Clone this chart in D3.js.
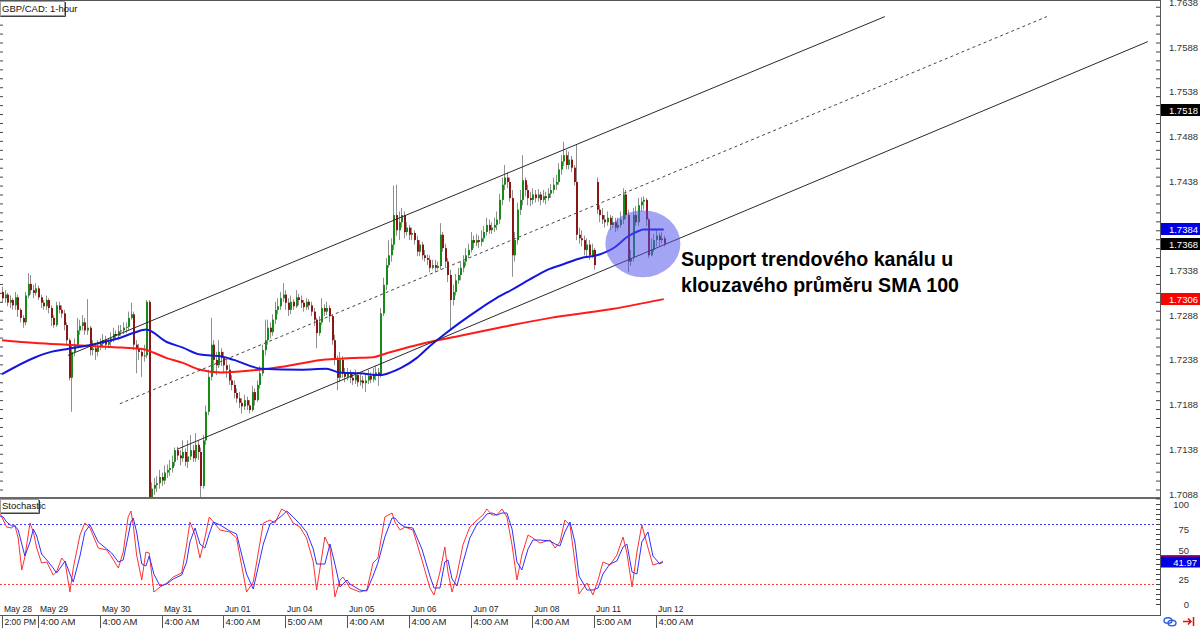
<!DOCTYPE html>
<html><head><meta charset="utf-8">
<script src="https://cdn.jsdelivr.net/npm/d3@7/dist/d3.min.js"></script>
<style>
html,body{margin:0;padding:0;background:#fff;}
svg{display:block;}
</style></head><body>
<svg id="chart" width="1200" height="628"></svg>
<script>
// ---------------- DATA ----------------
const firstOpen = 1.7314;
const gapOpens = {231: 1.7437};
const closes = [
1.7307,1.7311,1.7302,1.7305,1.7299,1.7308,1.7294,1.7285,1.7280,1.7310,
1.7323,1.7316,1.7313,1.7318,1.7308,1.7302,1.7298,1.7305,1.7296,1.7285,
1.7277,1.7299,1.7294,1.7290,1.7277,1.7260,1.7218,1.7247,1.7255,1.7271,
1.7276,1.7280,1.7271,1.7274,1.7249,1.7251,1.7247,1.7253,1.7256,1.7260,
1.7255,1.7258,1.7262,1.7267,1.7265,1.7270,1.7271,1.7274,1.7275,1.7285,
1.7289,1.7255,1.7251,1.7247,1.7242,1.7243,1.7303,1.7084,1.7094,1.7098,
1.7100,1.7107,1.7103,1.7112,1.7115,1.7117,1.7124,1.7137,1.7131,1.7128,
1.7135,1.7124,1.7130,1.7137,1.7128,1.7143,1.7135,1.7097,1.7148,1.7180,
1.7219,1.7255,1.7238,1.7232,1.7247,1.7240,1.7232,1.7227,1.7215,1.7210,
1.7201,1.7195,1.7190,1.7186,1.7193,1.7187,1.7182,1.7202,1.7193,1.7210,
1.7223,1.7249,1.7260,1.7274,1.7269,1.7283,1.7294,1.7298,1.7307,1.7311,
1.7302,1.7294,1.7303,1.7298,1.7308,1.7305,1.7302,1.7297,1.7303,1.7299,
1.7292,1.7283,1.7268,1.7280,1.7296,1.7292,1.7296,1.7287,1.7260,1.7238,
1.7218,1.7238,1.7224,1.7219,1.7223,1.7218,1.7215,1.7221,1.7213,1.7215,
1.7212,1.7215,1.7220,1.7216,1.7221,1.7224,1.7220,1.7290,1.7322,1.7344,
1.7355,1.7367,1.7400,1.7383,1.7392,1.7400,1.7381,1.7386,1.7378,1.7380,
1.7372,1.7359,1.7367,1.7355,1.7352,1.7350,1.7341,1.7344,1.7341,1.7343,
1.7378,1.7363,1.7348,1.7333,1.7305,1.7314,1.7327,1.7333,1.7341,1.7348,
1.7355,1.7361,1.7372,1.7369,1.7372,1.7370,1.7374,1.7381,1.7389,1.7383,
1.7386,1.7389,1.7395,1.7417,1.7434,1.7442,1.7437,1.7419,1.7355,1.7372,
1.7406,1.7417,1.7439,1.7428,1.7419,1.7417,1.7423,1.7419,1.7423,1.7417,
1.7421,1.7419,1.7424,1.7428,1.7434,1.7437,1.7451,1.7460,1.7467,1.7456,
1.7462,1.7453,1.7437,1.7378,1.7374,1.7372,1.7361,1.7367,1.7355,1.7361,
1.7344,1.7406,1.7400,1.7395,1.7392,1.7397,1.7389,1.7392,1.7386,1.7389,
1.7395,1.7423,1.7400,1.7348,1.7352,1.7400,1.7392,1.7411,1.7415,1.7417,
1.7395,1.7355,1.7361,1.7372,1.7377,1.7372,1.7374,1.7368];
const highs = [
1.7320,1.7316,1.7313,1.7310,1.7307,1.7314,1.7311,1.7296,1.7288,1.7314,
1.7335,1.7333,1.7322,1.7324,1.7321,1.7311,1.7305,1.7310,1.7307,1.7299,
1.7288,1.7303,1.7303,1.7299,1.7294,1.7280,1.7262,1.7255,1.7262,1.7285,
1.7283,1.7288,1.7285,1.7306,1.7276,1.7260,1.7257,1.7260,1.7262,1.7267,
1.7265,1.7262,1.7269,1.7274,1.7271,1.7277,1.7277,1.7280,1.7280,1.7292,
1.7302,1.7292,1.7260,1.7256,1.7251,1.7255,1.7305,1.7305,1.7101,1.7106,
1.7108,1.7115,1.7112,1.7120,1.7121,1.7126,1.7131,1.7140,1.7141,1.7137,
1.7148,1.7139,1.7148,1.7154,1.7143,1.7156,1.7148,1.7140,1.7154,1.7187,
1.7227,1.7285,1.7260,1.7247,1.7260,1.7251,1.7247,1.7238,1.7233,1.7221,
1.7215,1.7206,1.7202,1.7195,1.7199,1.7197,1.7193,1.7209,1.7206,1.7215,
1.7231,1.7255,1.7283,1.7283,1.7280,1.7289,1.7303,1.7307,1.7314,1.7324,
1.7316,1.7307,1.7310,1.7306,1.7316,1.7312,1.7310,1.7305,1.7307,1.7306,
1.7303,1.7296,1.7285,1.7287,1.7307,1.7300,1.7303,1.7299,1.7289,1.7266,
1.7243,1.7247,1.7242,1.7229,1.7229,1.7227,1.7224,1.7227,1.7224,1.7222,
1.7220,1.7222,1.7227,1.7224,1.7229,1.7231,1.7229,1.7296,1.7330,1.7352,
1.7372,1.7374,1.7433,1.7434,1.7404,1.7408,1.7404,1.7392,1.7389,1.7386,
1.7383,1.7377,1.7372,1.7370,1.7361,1.7356,1.7355,1.7350,1.7350,1.7348,
1.7391,1.7381,1.7368,1.7352,1.7339,1.7322,1.7334,1.7341,1.7348,1.7355,
1.7363,1.7368,1.7381,1.7377,1.7379,1.7377,1.7383,1.7388,1.7397,1.7395,
1.7392,1.7397,1.7404,1.7424,1.7442,1.7456,1.7448,1.7442,1.7428,1.7381,
1.7414,1.7428,1.7467,1.7442,1.7434,1.7426,1.7430,1.7428,1.7429,1.7426,
1.7428,1.7426,1.7430,1.7435,1.7442,1.7445,1.7458,1.7467,1.7482,1.7473,
1.7471,1.7466,1.7456,1.7479,1.7386,1.7383,1.7377,1.7374,1.7372,1.7368,
1.7363,1.7442,1.7411,1.7408,1.7400,1.7404,1.7400,1.7399,1.7397,1.7397,
1.7404,1.7430,1.7428,1.7406,1.7361,1.7408,1.7410,1.7419,1.7420,1.7421,
1.7419,1.7397,1.7374,1.7379,1.7383,1.7380,1.7381,1.7377];
const lows = [
1.7303,1.7302,1.7298,1.7296,1.7294,1.7294,1.7286,1.7280,1.7274,1.7277,
1.7307,1.7311,1.7307,1.7310,1.7305,1.7296,1.7294,1.7294,1.7290,1.7276,
1.7274,1.7275,1.7290,1.7285,1.7271,1.7255,1.7215,1.7180,1.7242,1.7251,
1.7266,1.7271,1.7266,1.7266,1.7243,1.7243,1.7238,1.7242,1.7249,1.7251,
1.7249,1.7251,1.7253,1.7258,1.7260,1.7260,1.7265,1.7267,1.7268,1.7271,
1.7283,1.7249,1.7223,1.7238,1.7219,1.7236,1.7240,1.7083,1.7083,1.7087,
1.7090,1.7094,1.7097,1.7099,1.7106,1.7108,1.7112,1.7119,1.7126,1.7120,
1.7124,1.7119,1.7117,1.7126,1.7124,1.7124,1.7126,1.7084,1.7094,1.7143,
1.7176,1.7215,1.7224,1.7221,1.7229,1.7231,1.7224,1.7218,1.7210,1.7204,
1.7195,1.7190,1.7184,1.7178,1.7182,1.7182,1.7178,1.7180,1.7187,1.7191,
1.7206,1.7220,1.7243,1.7255,1.7262,1.7265,1.7278,1.7289,1.7294,1.7303,
1.7294,1.7287,1.7289,1.7294,1.7296,1.7299,1.7296,1.7292,1.7294,1.7294,
1.7287,1.7276,1.7251,1.7265,1.7277,1.7287,1.7288,1.7280,1.7255,1.7232,
1.7204,1.7213,1.7218,1.7213,1.7215,1.7212,1.7210,1.7211,1.7208,1.7209,
1.7206,1.7202,1.7211,1.7212,1.7213,1.7215,1.7209,1.7218,1.7287,1.7316,
1.7341,1.7348,1.7361,1.7377,1.7372,1.7386,1.7374,1.7377,1.7372,1.7372,
1.7367,1.7354,1.7354,1.7350,1.7348,1.7344,1.7336,1.7339,1.7336,1.7339,
1.7339,1.7359,1.7341,1.7325,1.7271,1.7299,1.7310,1.7323,1.7327,1.7336,
1.7343,1.7352,1.7358,1.7363,1.7365,1.7363,1.7365,1.7370,1.7377,1.7379,
1.7379,1.7381,1.7383,1.7390,1.7411,1.7428,1.7430,1.7415,1.7331,1.7348,
1.7367,1.7400,1.7411,1.7421,1.7411,1.7410,1.7412,1.7414,1.7415,1.7411,
1.7414,1.7412,1.7416,1.7419,1.7424,1.7428,1.7434,1.7445,1.7455,1.7451,
1.7451,1.7448,1.7433,1.7372,1.7368,1.7365,1.7355,1.7354,1.7350,1.7352,
1.7339,1.7401,1.7392,1.7390,1.7386,1.7388,1.7383,1.7386,1.7381,1.7383,
1.7386,1.7390,1.7395,1.7336,1.7343,1.7348,1.7388,1.7388,1.7404,1.7406,
1.7388,1.7352,1.7354,1.7359,1.7365,1.7365,1.7368,1.7365];

// moving averages (sampled, bar index -> price)
const ma100Idx = [0,13,19,25,38,45,51,56,64,70,77,85,90,101,116,126,131,139,147,151,155,161,166,172,178,186,192,199,205,212,218,225,231,238,243,248,249,257];
const ma100Val = [1.7222,1.7241,1.7247,1.7250,1.7257,1.7262,1.7268,1.7272,1.7258,1.7252,1.7244,1.7242,1.7238,1.7228,1.7227,1.7228,1.7224,1.7223,1.7221,1.7224,1.7229,1.7240,1.7253,1.7267,1.7280,1.7296,1.7307,1.7318,1.7328,1.7339,1.7345,1.7352,1.7355,1.7364,1.7376,1.7383,1.7384,1.7384];
const ma200Idx = [0,13,25,38,45,51,55,59,64,70,77,85,100,108,116,124,129,136,144,150,155,166,178,193,213,235,257];
const ma200Val = [1.7260,1.7257,1.7255,1.7253,1.7252,1.7251,1.7250,1.7246,1.7240,1.7235,1.7227,1.7224,1.7227,1.7230,1.7234,1.7238,1.7239,1.7240,1.7241,1.7246,1.7250,1.7258,1.7265,1.7274,1.7285,1.7294,1.7306];

// stochastic (sampled, bar index -> value)
const stochIdx = [-0.8,0.5,1.8,3.8,5.0,6.3,7.7,8.9,10.9,12.2,13.5,15.4,17.4,19.9,21.2,23.2,24.5,26.4,27.7,30.3,32.2,34.2,37.4,40.7,42.6,45.2,47.1,49.0,50.1,51.0,52.3,54.3,55.9,57.2,59.0,61.4,64.0,66.5,69.8,71.7,73.0,75.0,76.9,78.8,80.5,82.1,84.7,88.5,91.1,95.0,97.6,101.5,104.1,106.0,108.6,110.6,113.1,115.7,118.3,120.9,122.2,125.4,127.4,129.3,131.3,132.4,134.0,135.1,139.0,141.7,144.1,146.0,148.7,151.5,152.6,154.6,156.5,159.6,163.1,166.2,167.8,170.1,172.0,173.2,174.8,176.7,179.0,181.7,184.5,186.8,188.3,190.3,192.2,194.2,196.1,198.1,200.0,201.9,204.3,206.2,208.9,212.8,214.8,216.7,218.6,220.6,222.5,224.1,227.2,229.5,231.5,233.4,236.1,238.8,241.2,242.7,244.7,246.6,248.5,250.9,252.8,255.5,256.7];
const stochK = [91,84,77,76,79,66,34,47,81,72,56,41,42,29,32,46,42,12,36,69,81,76,56,54,47,36,52,87,93,79,49,24,52,51,12,17,21,27,31,59,82,69,46,66,87,82,74,72,66,12,22,81,84,81,95,92,81,77,66,42,14,67,56,7,24,27,21,16,12,14,41,46,87,91,82,74,77,74,44,16,9,32,57,32,12,29,59,77,84,89,95,89,89,95,87,59,24,49,69,66,61,64,56,62,84,79,42,10,21,9,24,42,39,49,67,51,17,52,79,56,39,41,43];
const stochD = [88,87,82,78,78,74,60,48,62,75,68,50,44,36,31,38,43,30,22,48,72,79,62,55,51,42,44,68,82,86,72,40,38,48,30,18,20,25,29,42,62,76,60,56,70,82,79,73,70,30,15,60,80,83,88,93,87,80,72,55,40,40,60,40,17,20,24,20,14,13,28,41,67,86,86,80,77,76,55,28,16,16,42,44,25,18,41,66,80,85,90,91,89,91,91,75,42,34,55,64,64,63,60,58,72,82,62,28,14,14,16,30,40,43,57,60,32,30,62,72,48,40,41.97];
const stochLevels = [80, 20];

// drawn trend channel (bar index, price)
const channelUpper  = [[25.6, 1.7243], [342.9, 1.7622]];
const channelMiddle = [[45.8, 1.7189], [405.8, 1.7622]];
const channelLower  = [[68.0, 1.7138], [445.0, 1.7594]];
const highlightCenter = [248.9, 1.7368];

// axis labels
const priceTicks = [1.7088,1.7138,1.7188,1.7238,1.7288,1.7338,1.7388,1.7438,1.7488,1.7538,1.7588,1.7638];
const stochTicks = [0,25,50,75,100];
const markerValues = [1.7518, 1.7384, 1.7368, 1.7306];
const stochMarkerK = 43.2, stochMarkerD = 41.97;
const dateIdx = [0,14,38,62,86,110,134,158,182,206,230,254];
const dateLabels = ['May 28','May 29','May 30','May 31','Jun 01','Jun 04','Jun 05','Jun 06','Jun 07','Jun 08','Jun 11','Jun 12'];
const timeLabels = ['2:00 PM','4:00 AM','4:00 AM','4:00 AM','4:00 AM','5:00 AM','4:00 AM','4:00 AM','4:00 AM','4:00 AM','5:00 AM','4:00 AM'];
const titleText = 'GBP/CAD: 1-hour';
const stochTitle = 'Stochastic';
const noteLines = ['Support trendového kanálu u', 'klouzavého průměru SMA 100'];

// ---------------- DRAW ----------------
const FONT = "'Liberation Sans Narrow','Arial Narrow','Liberation Sans',Arial,sans-serif";
const svg = d3.select('#chart');
const AXX = 1160, MAIN_B = 498, STO_B = 615;
const x = d3.scaleLinear().domain([14, 254]).range([38, 656]);
const y = d3.scaleLinear().domain([1.7088, 1.7588]).range([494, 47]);
const ys = d3.scaleLinear().domain([0, 100]).range([604, 504]);

svg.append('rect').attr('width',1200).attr('height',628).attr('fill','#fff');
const defs = svg.append('defs');
defs.append('clipPath').attr('id','cm').append('rect').attr('x',0).attr('y',0).attr('width',AXX).attr('height',MAIN_B);
defs.append('clipPath').attr('id','cs').append('rect').attr('x',0).attr('y',MAIN_B+1).attr('width',AXX).attr('height',STO_B-MAIN_B-1);

const main = svg.append('g').attr('clip-path','url(#cm)');

const bars = closes.map((c,i)=>{
  const o = i===0 ? firstOpen : (gapOpens[i]!==undefined ? gapOpens[i] : closes[i-1]);
  return {i, o, c, h: Math.max(highs[i],o,c), l: Math.min(lows[i],o,c)};
});

// wicks
main.append('g').selectAll('line').data(bars).join('line')
  .attr('x1', d=>Math.round(x(d.i))+0.5).attr('x2', d=>Math.round(x(d.i))+0.5)
  .attr('y1', d=>y(d.h)).attr('y2', d=>y(d.l))
  .attr('stroke','#8f8f8f').attr('stroke-width',1);
// bodies
main.append('g').selectAll('rect').data(bars).join('rect')
  .attr('x', d=>Math.round(x(d.i)))
  .attr('width', 2)
  .attr('y', d=>y(Math.max(d.o,d.c)))
  .attr('height', d=>Math.max(1, Math.abs(y(d.o)-y(d.c))))
  .attr('fill', d=> d.c>=d.o ? '#178a17' : '#8c1616');

// moving averages
const maLine = d3.line().x(d=>x(d[0])).y(d=>y(d[1])).curve(d3.curveMonotoneX);
main.append('path').datum(d3.zip(ma200Idx, ma200Val)).attr('d', maLine)
  .attr('fill','none').attr('stroke','#ff1a1a').attr('stroke-width',2);
main.append('path').datum(d3.zip(ma100Idx, ma100Val)).attr('d', maLine)
  .attr('fill','none').attr('stroke','#1515e0').attr('stroke-width',2);

// channel
const lin = d3.line().x(d=>x(d[0])).y(d=>y(d[1]));
main.append('path').datum(channelUpper).attr('d',lin).attr('stroke','#2a2a2a').attr('stroke-width',1).attr('fill','none');
main.append('path').datum(channelMiddle).attr('d',lin).attr('stroke','#444').attr('stroke-width',1).attr('stroke-dasharray','3,3').attr('fill','none');
main.append('path').datum(channelLower).attr('d',lin).attr('stroke','#2a2a2a').attr('stroke-width',1).attr('fill','none');

// highlight ellipse
main.append('ellipse').attr('cx', x(highlightCenter[0])).attr('cy', y(highlightCenter[1]))
  .attr('rx', 37.5).attr('ry', 33.5).attr('fill','#5050ec').attr('fill-opacity',0.52);

// annotation
const note = svg.append('text').attr('font-family',"'Liberation Sans',Arial,sans-serif")
  .attr('font-weight','bold').attr('font-size','19.6px').attr('fill','#000');
note.selectAll('tspan').data(noteLines).join('tspan')
  .attr('x', 681).attr('y', (d,i)=> 266 + i*26).text(d=>d);

// ---- stochastic panel ----
const sto = svg.append('g').attr('clip-path','url(#cs)');
sto.selectAll('line.lvl').data(stochLevels).join('line').attr('class','lvl')
  .attr('x1',0).attr('x2',AXX).attr('y1',d=>Math.round(ys(d))+0.5).attr('y2',d=>Math.round(ys(d))+0.5)
  .attr('stroke', d=> d>50 ? '#3a3aff' : '#ff3a3a').attr('stroke-width',1).attr('stroke-dasharray','2,2');
const sLine = d3.line().x(d=>x(d[0])).y(d=>ys(d[1]));
sto.append('path').datum(d3.zip(stochIdx, stochK)).attr('d', sLine).attr('fill','none').attr('stroke','#ff3030').attr('stroke-width',1);
sto.append('path').datum(d3.zip(stochIdx, stochD)).attr('d', sLine).attr('fill','none').attr('stroke','#3030ff').attr('stroke-width',1);

// ---- frame ----
svg.append('line').attr('x1',0).attr('x2',AXX).attr('y1',0.5).attr('y2',0.5).attr('stroke','#555');
svg.append('rect').attr('x',0).attr('y',MAIN_B-1).attr('width',AXX).attr('height',2).attr('fill','#6a6a6a');
svg.append('line').attr('x1',0).attr('x2',AXX).attr('y1',STO_B+0.5).attr('y2',STO_B+0.5).attr('stroke','#555');
svg.append('line').attr('x1',AXX+0.5).attr('x2',AXX+0.5).attr('y1',0).attr('y2',STO_B+1).attr('stroke','#555');

// right price axis
const minorP = d3.range(1.7083, 1.7645, 0.001).map(v=>+v.toFixed(4));
const pTicks = svg.append('g').attr('transform',`translate(${AXX},0)`)
  .call(d3.axisLeft(y).tickValues(minorP).tickSize(4).tickFormat(''));
pTicks.select('.domain').remove();
pTicks.selectAll('line').attr('stroke','#444');
// value markers sit on top of grid labels; grid labels hidden behind a marker are clipped to the visible sliver
const markerColors = ['#000000','#0000e6','#000000','#ff0000'];
const markerY = markerValues.map(v=>Math.round(y(v)));
defs.append('clipPath').attr('id','labclip').selectAll('rect')
  .data(priceTicks).join('rect')
  .attr('x', AXX+1).attr('width', 40)
  .attr('y', v=>{ const cy=y(v); const hit=markerY.find(m=>Math.abs(m-cy)<9); return hit!==undefined && hit>cy ? cy-7 : cy-7; })
  .attr('height', v=>{ const cy=y(v); const hit=markerY.find(m=>Math.abs(m-cy)<9); return hit!==undefined ? Math.max(0,(hit-6)-(cy-7)) : 14; });
const pLab = svg.append('g').attr('transform',`translate(${AXX},0)`)
  .call(d3.axisRight(y).tickValues(priceTicks.filter(v=>{const cy=y(v); return !markerY.some(m=>Math.abs(m-cy)<5);})).tickSize(0).tickPadding(38).tickFormat(d3.format('.4f')));
pLab.select('.domain').remove();
pLab.selectAll('text').attr('text-anchor','end').attr('font-family',FONT).attr('font-size','9.5px').attr('fill','#333');
// left edge ticks
const lTicks = svg.append('g').call(d3.axisRight(y).tickValues(minorP.filter(v=>y(v)<MAIN_B-2 && y(v)>2)).tickSize(3).tickFormat(''));
lTicks.select('.domain').remove(); lTicks.selectAll('line').attr('stroke','#444');

// stoch axis
const minorS = d3.range(0, 101, 5);
const sTicks = svg.append('g').attr('transform',`translate(${AXX},0)`)
  .call(d3.axisLeft(ys).tickValues(minorS).tickSize(4).tickFormat(''));
sTicks.select('.domain').remove(); sTicks.selectAll('line').attr('stroke','#444');
const sLab = svg.append('g').attr('transform',`translate(${AXX},0)`)
  .call(d3.axisRight(ys).tickValues(stochTicks).tickSize(0).tickPadding(29));
sLab.select('.domain').remove();
sLab.selectAll('text').attr('text-anchor','end').attr('font-family',FONT).attr('font-size','9.5px').attr('fill','#333')
  .attr('dy', d=> d===50 ? '-0.05em' : '0.32em');

const mk = svg.append('g');
markerValues.forEach((v,k)=>{
  const cy = markerY[k];
  mk.append('rect').attr('x',AXX+1).attr('y',cy-6).attr('width',39).attr('height',12).attr('fill',markerColors[k]);
  mk.append('text').attr('x',1198).attr('y',cy+3.5).attr('text-anchor','end').attr('font-family',FONT)
    .attr('font-size','9.5px').attr('fill','#fff').text(d3.format('.4f')(v));
});
{
  const cyK = Math.round(ys(stochMarkerK)), cyD = Math.round(ys(stochMarkerD));
  mk.append('rect').attr('x',AXX+1).attr('y',cyK-6).attr('width',39).attr('height',11).attr('fill','#ff0000');
  mk.append('rect').attr('x',AXX+1).attr('y',cyD-5.5).attr('width',39).attr('height',11).attr('fill','#0000e6');
  mk.append('text').attr('x',1197).attr('y',cyD+3.5).attr('text-anchor','end').attr('font-family',FONT)
    .attr('font-size','9.5px').attr('fill','#fff').text(d3.format('.2f')(stochMarkerD));
}

// time axis
const tx = svg.append('g');
tx.selectAll('text.d').data(dateIdx).join('text').attr('class','d')
  .attr('x', d=>Math.round(x(d))+2).attr('y', 612).attr('font-family',FONT).attr('font-size','8.5px').attr('fill','#222')
  .text((d,k)=>dateLabels[k]);
tx.selectAll('line').data(dateIdx).join('line')
  .attr('x1', d=>Math.round(x(d))+0.5).attr('x2', d=>Math.round(x(d))+0.5).attr('y1', STO_B).attr('y2', 628).attr('stroke','#555');
tx.selectAll('text.t').data(dateIdx).join('text').attr('class','t')
  .attr('x', d=>Math.round(x(d))+2.5).attr('y', 625).attr('font-family',FONT)
  .attr('font-size', (d,k)=> k===0 ? '8.5px' : '9.5px').attr('fill','#222')
  .text((d,k)=>timeLabels[k]);

// title boxes
function labelBox(tx0, ty0, w, h, txt){
  const g = svg.append('g');
  g.append('rect').attr('x',tx0+0.5).attr('y',ty0+0.5).attr('width',w).attr('height',h).attr('fill','#fff').attr('stroke','#a0a0a0');
  g.append('path').attr('d',`M${tx0+1},${ty0+h+1.5}H${tx0+w+1.5}V${ty0+1}`).attr('stroke','#404040').attr('fill','none');
  g.append('text').attr('x',tx0+2).attr('y',ty0+h-3.5).attr('font-family',FONT).attr('font-size','9.5px').attr('fill','#111').text(txt);
}
labelBox(0, 1, 64, 14, titleText);
labelBox(0, 499, 38, 13, stochTitle);

// bottom-right icons
const ic = svg.append('g');
ic.append('ellipse').attr('cx',1168).attr('cy',620.5).attr('rx',4).attr('ry',2.8).attr('fill','none').attr('stroke','#2f5fe0').attr('stroke-width',1.4);
ic.append('ellipse').attr('cx',1172).attr('cy',623).attr('rx',4).attr('ry',2.8).attr('fill','none').attr('stroke','#2f5fe0').attr('stroke-width',1.4);
ic.append('path').attr('d','M1183,621.5H1191M1188,618.5L1191,621.5L1188,624.5M1193.5,617V626').attr('stroke','#e01010').attr('stroke-width',1.5).attr('fill','none');
</script>
</body></html>
